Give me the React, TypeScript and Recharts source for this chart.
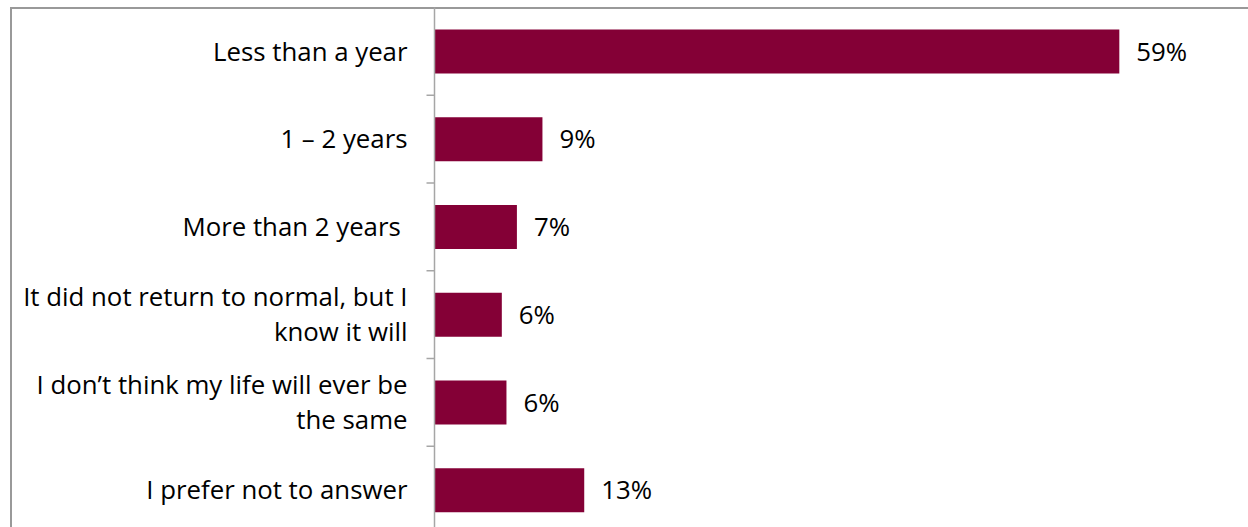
import React from 'react';
import { BarChart, Bar, XAxis, YAxis, LabelList } from 'recharts';

const categories = [
  'Less than a year',
  '1 – 2 years',
  'More than 2 years\u00A0',
  'It did not return to normal, but I\nknow it will',
  'I don’t think my life will ever be\nthe same',
  'I prefer not to answer',
];
const values = [59, 9.3, 7.1, 5.8, 6.2, 12.9];
const valueLabels = ['59%', '9%', '7%', '6%', '6%', '13%'];

const data = categories.map((c, i) => ({ category: c, value: values[i], label: valueLabels[i] }));

const FONT = '"Open Sans", sans-serif';
const FONT_SIZE = 25.8;
const LINE_H = 35;
const CAP_HALF = 9.3;
const AXIS_COLOR = '#a6a6a6';
const BAR_COLOR = '#840036';
const Y_AXIS_WIDTH = 434.5;
const TICK_SIZE = 8;
const TICK_MARGIN = 19;
const CHART_H = 545;
const MARGIN = { top: 7.5, right: 1, bottom: 11, left: 0 };

const CategoryTick = (props: any) => {
  const { x, y, payload } = props;
  const lines = String(payload.value).split('\n');
  const band = (CHART_H - MARGIN.top - MARGIN.bottom) / categories.length;
  const half = typeof payload.offset === 'number' && payload.offset > 0 ? payload.offset : band / 2;
  const axisX = x + TICK_MARGIN + TICK_SIZE;
  return (
    <g>
      <line x1={axisX - TICK_SIZE} x2={axisX} y1={y + half} y2={y + half} stroke={AXIS_COLOR} strokeWidth={1.5} />
      <text textAnchor="end" fontFamily={FONT} fontSize={FONT_SIZE} fill="#000">
        {lines.map((l, i) => (
          <tspan key={i} x={x} y={y + CAP_HALF + LINE_H * (i - (lines.length - 1) / 2)}>
            {l}
          </tspan>
        ))}
      </text>
    </g>
  );
};

export default function App() {
  return (
    <div style={{ position: 'absolute', left: 0, top: 0, width: 1248, height: 527, overflow: 'hidden', background: '#fff' }}>
      <div
        style={{
          position: 'absolute',
          left: 10,
          top: 7,
          width: 1400,
          height: 700,
          border: '2px solid #999999',
          boxSizing: 'border-box',
        }}
      />
      <div style={{ position: 'absolute', left: 0, top: 0 }}>
        <BarChart width={1248} height={CHART_H} data={data} layout="vertical" margin={MARGIN} barSize={44}>
          <XAxis type="number" domain={[0, 70]} hide />
          <YAxis
            type="category"
            dataKey="category"
            width={Y_AXIS_WIDTH}
            tickLine={false}
            tickSize={TICK_SIZE}
            tickMargin={TICK_MARGIN}
            axisLine={{ stroke: AXIS_COLOR, strokeWidth: 1.5 }}
            tick={<CategoryTick />}
            interval={0}
          />
          <Bar dataKey="value" fill={BAR_COLOR} isAnimationActive={false}>
            <LabelList dataKey="label" position="right" offset={17} fontFamily={FONT} fontSize={FONT_SIZE} fill="#000" />
          </Bar>
        </BarChart>
      </div>
    </div>
  );
}
